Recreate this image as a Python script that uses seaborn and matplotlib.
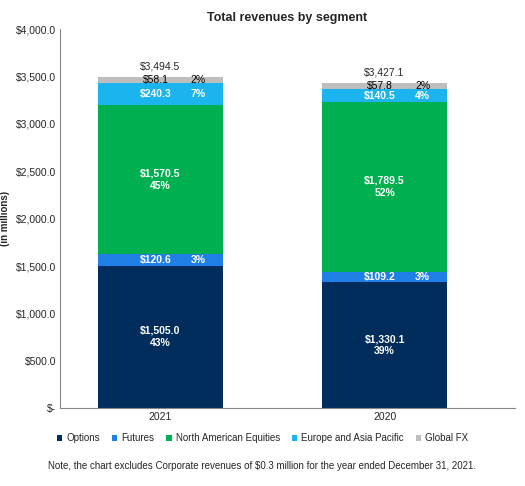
import numpy as np
import matplotlib
matplotlib.use("Agg")
import matplotlib.pyplot as plt
import seaborn as sns

years = ["2021", "2020"]
segments = ["Options", "Futures", "North American Equities", "Europe and Asia Pacific", "Global FX"]
options = [1505.0, 1330.1]
futures = [120.6, 109.2]
equities = [1570.5, 1789.5]
europe = [240.3, 140.5]
global_fx = [58.1, 57.8]
totals = [3494.5, 3427.1]
colors = ["#002D5C", "#1F7FE6", "#00AF4F", "#1CB4EE", "#BEBEBE"]

sns.set_theme(style="white")
plt.rcParams['font.family'] = ['Liberation Sans', 'DejaVu Sans']

fig = plt.figure(figsize=(5.25, 4.86), dpi=100)
ax = fig.add_axes([0.115, 0.16, 0.865, 0.78])

series = [options, futures, equities, europe, global_fx]
x = np.arange(len(years))
width = 0.556
bottom = np.zeros(len(years))
for name, vals, c in zip(segments, series, colors):
    vals = np.array(vals)
    ax.bar(x, vals, width, bottom=bottom, color=c, label=name, edgecolor="none", linewidth=0)
    for i, v in enumerate(vals):
        pct = f"{v / totals[i] * 100:.0f}%"
        mid = bottom[i] + v / 2
        tc = "black" if name == "Global FX" else "white"
        fw = "normal" if name == "Global FX" else "bold"
        if v > 500:
            ax.text(x[i], mid, f"${v:,.1f}\n{pct}", ha="center", va="center",
                    color=tc, fontsize=7.5, fontweight=fw, linespacing=1.3)
        else:
            ax.text(x[i] - 0.02, mid, f"${v:,.1f}", ha="center", va="center",
                    color=tc, fontsize=7.5, fontweight=fw)
            ax.text(x[i] + 0.17, mid, pct, ha="center", va="center",
                    color=tc, fontsize=7.5, fontweight=fw)
    bottom += vals

for i, t in enumerate(totals):
    ax.text(x[i], t + 60, f"${t:,.1f}", ha="center", va="bottom", fontsize=7.5)

ax.set_xlim(-0.445, 1.579)
ax.set_ylim(0, 4000)
ax.set_yticks(np.arange(0, 4001, 500))
ax.set_yticklabels(["$-"] + [f"${v:,.1f}" for v in np.arange(500, 4001, 500)])
ax.set_xticks(x)
ax.set_xticklabels(years)
ax.tick_params(labelsize=7.5, length=0, pad=3)
ax.set_ylabel("(in millions)", fontsize=7, fontweight="bold")
ax.set_title("Total revenues by segment", fontsize=9, fontweight="bold", pad=6)
for s in ["top", "right"]:
    ax.spines[s].set_visible(False)
for s in ["left", "bottom"]:
    ax.spines[s].set_color("#888888")
    ax.spines[s].set_linewidth(0.8)

handles, labels = ax.get_legend_handles_labels()
fig.legend(handles, labels, loc="lower center", bbox_to_anchor=(0.5, 0.07), ncol=5,
           frameon=False, fontsize=7, handlelength=0.6, handleheight=0.6,
           columnspacing=1.2, handletextpad=0.4)
fig.text(0.5, 0.035, "Note, the chart excludes Corporate revenues of $0.3 million for the year ended December 31, 2021.",
         ha="center", fontsize=7)

fig.savefig("out.png", dpi=100)
